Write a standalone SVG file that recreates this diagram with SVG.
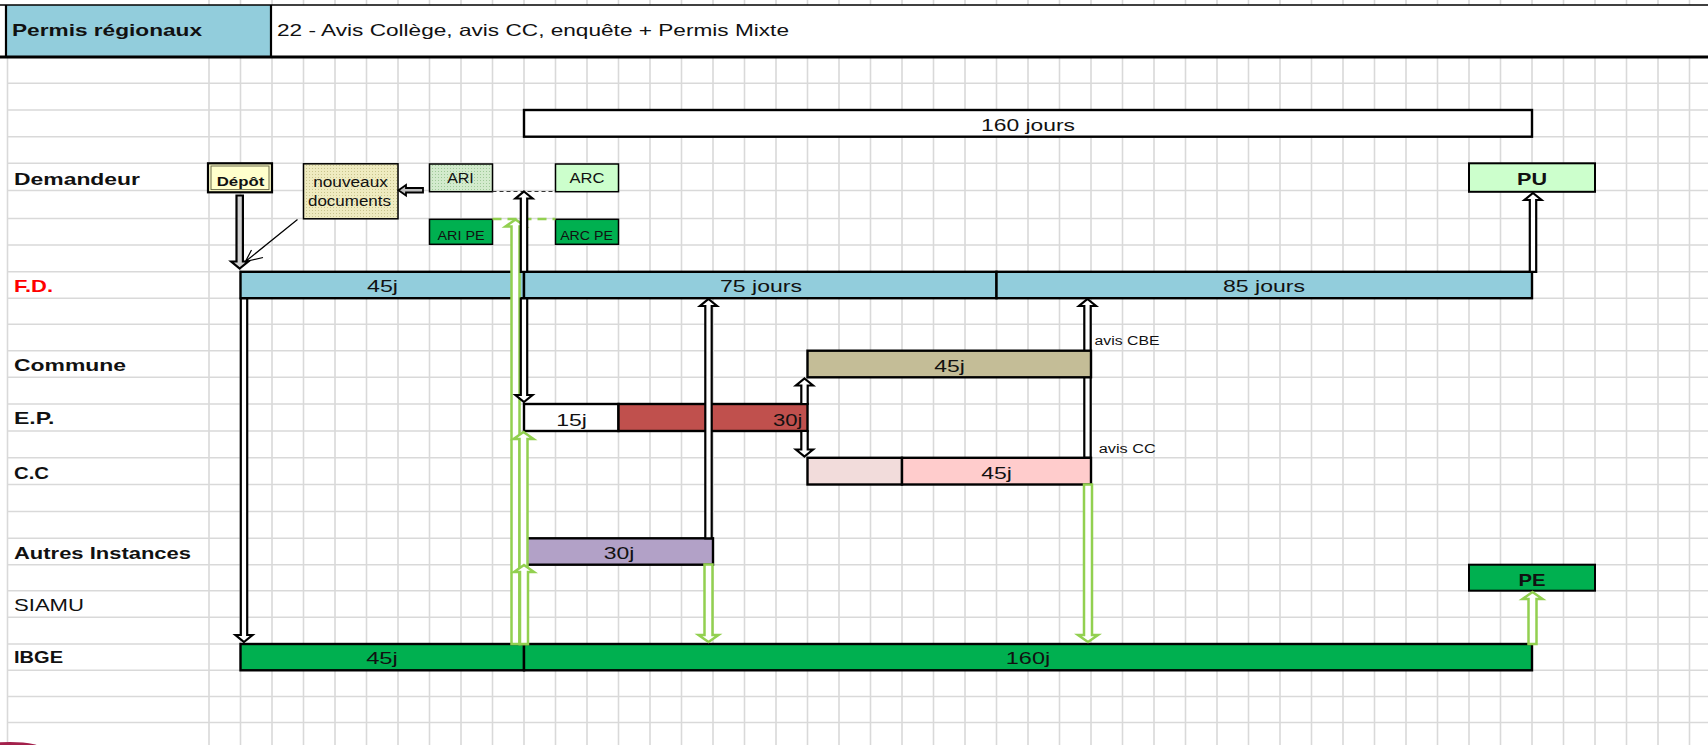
<svg xmlns="http://www.w3.org/2000/svg" width="1708" height="745" viewBox="0 0 1708 745">
<defs>
<style>
text{font-family:"Liberation Sans",Arial,sans-serif;fill:#111}
.b{font-weight:bold}
.s17{font-size:17px}
.s14{font-size:14px}
.s13{font-size:13px}
.s12{font-size:12.5px}
.m{text-anchor:middle}
.bar{stroke:#000;stroke-width:2.4}
.fd{fill:#92cddc}
.gr{fill:#00b050}
.ba{fill:#fff;stroke:#000;stroke-width:2.2;stroke-linejoin:miter}
.ga{fill:#fff;stroke:#92d050;stroke-width:2.5;stroke-linejoin:miter}
.grid{stroke:#d9d9d9;stroke-width:1.6;fill:none}
</style>
<pattern id="dotY" width="3" height="3" patternUnits="userSpaceOnUse"><rect width="3" height="3" fill="#efebc0"/><rect width="1" height="1" fill="#c9c58e"/></pattern>
<pattern id="dotG" width="3" height="3" patternUnits="userSpaceOnUse"><rect width="3" height="3" fill="#d3ebcd"/><rect width="1" height="1" fill="#9fc998"/></pattern>
</defs>
<rect width="1708" height="745" fill="#fff"/>
<g id="grid" class="grid">
<path d="M7.5 57V745M209 0V745M240.5 0V745M272 0V745M303.5 0V745M335 0V745M366.5 0V745M398 0V745M429.5 0V745M461 0V745M492.5 0V745M524 0V745M555.5 0V745M587 0V745M618.5 0V745M650 0V745M681.5 0V745M713 0V745M744.5 0V745M776 0V745M807.5 0V745M839 0V745M870.5 0V745M902 0V745M933.5 0V745M965 0V745M996.5 0V745M1028 0V745M1059.5 0V745M1091 0V745M1122.5 0V745M1154 0V745M1185.5 0V745M1217 0V745M1248.5 0V745M1280 0V745M1311.5 0V745M1343 0V745M1374.5 0V745M1406 0V745M1437.5 0V745M1469 0V745M1500.5 0V745M1532 0V745M1563.5 0V745M1595 0V745M1626.5 0V745M1658 0V745M1689.5 0V745"/>
<path d="M7.5 83.3H1708M7.5 110H1708M7.5 136.7H1708M7.5 163.3H1708M7.5 190.5H1708M7.5 218.5H1708M7.5 245H1708M7.5 271.8H1708M7.5 298.2H1708M7.5 324.2H1708M7.5 350.7H1708M7.5 377.3H1708M7.5 404H1708M7.5 431H1708M7.5 457.8H1708M7.5 484.5H1708M7.5 511.5H1708M7.5 538.3H1708M7.5 564.7H1708M7.5 590.7H1708M7.5 617.3H1708M7.5 644H1708M7.5 670.3H1708M7.5 696.5H1708M7.5 722.5H1708"/>
</g>
<g id="title">
<rect x="0" y="5" width="1708" height="52" fill="#fff"/>
<rect x="6" y="5" width="265" height="52" fill="#92cddc"/>
<path d="M0 5H1708" stroke="#000" stroke-width="1.5"/>
<path d="M6 5V57M271 5V57" stroke="#000" stroke-width="2.2"/>
<path d="M0 57H1708" stroke="#000" stroke-width="3"/>
<text class="b" x="12" y="35.5" font-size="16.5" textLength="190" lengthAdjust="spacingAndGlyphs">Permis régionaux</text>
<text x="277" y="35.5" font-size="16.5" textLength="512" lengthAdjust="spacingAndGlyphs">22 - Avis Collège, avis CC, enquête + Permis Mixte</text>
</g>
<g id="row-labels" class="s17">
<text class="b" x="14" y="185" textLength="126" lengthAdjust="spacingAndGlyphs">Demandeur</text>
<text class="b" x="14" y="292.3" textLength="39" lengthAdjust="spacingAndGlyphs" style="fill:#ff0000">F.D.</text>
<text class="b" x="14" y="371" textLength="112" lengthAdjust="spacingAndGlyphs">Commune</text>
<text class="b" x="14" y="423.5" textLength="40.5" lengthAdjust="spacingAndGlyphs">E.P.</text>
<text class="b" x="14" y="479" textLength="35" lengthAdjust="spacingAndGlyphs">C.C</text>
<text class="b" x="14" y="559.3" textLength="177" lengthAdjust="spacingAndGlyphs">Autres Instances</text>
<text x="14" y="611" textLength="70" lengthAdjust="spacingAndGlyphs">SIAMU</text>
<text class="b" x="14" y="663.3" textLength="49" lengthAdjust="spacingAndGlyphs">IBGE</text>
</g>
<g id="connectors-back">
<path class="ba" d="M1087.5 299 L1096 306 L1090.7 306 L1090.7 457.8 L1084.3 457.8 L1084.3 306 L1079 306 Z"/>
</g>
<g id="n-160jours"><rect class="bar" x="524" y="110" width="1008" height="26.7" fill="#fff" stroke-width="2"/><text class="s17 m" x="1028" y="131" textLength="94" lengthAdjust="spacingAndGlyphs">160 jours</text></g>
<g id="n-depot"><rect x="208" y="163.3" width="64" height="29" fill="#ffffcc" stroke="#000" stroke-width="2.2"/><rect x="211" y="166" width="58" height="23.6" fill="none" stroke="#6b6b4a" stroke-width="1"/><text class="b s13 m" x="240.5" y="185.7" textLength="47.6" lengthAdjust="spacingAndGlyphs">Dépôt</text></g>
<g id="n-nouveaux"><rect x="303.5" y="163.8" width="94.5" height="55" fill="url(#dotY)" stroke="#000" stroke-width="1.5"/><text class="s14 m" x="350.5" y="186.7" textLength="74.7" lengthAdjust="spacingAndGlyphs">nouveaux</text><text class="s14 m" x="349.5" y="205.7" textLength="83" lengthAdjust="spacingAndGlyphs">documents</text></g>
<g id="n-ari"><rect x="429.5" y="164" width="63" height="27.7" fill="url(#dotG)" stroke="#000" stroke-width="1.5"/><text class="s14 m" x="460.5" y="182.7" textLength="26.6" lengthAdjust="spacingAndGlyphs">ARI</text></g>
<g id="n-arc"><rect x="555.5" y="164" width="63" height="27.7" fill="#ccffcc" stroke="#000" stroke-width="1.5"/><text class="s14 m" x="587" y="182.7" textLength="35" lengthAdjust="spacingAndGlyphs">ARC</text></g>
<g id="n-aripe"><rect x="429.5" y="219.3" width="63" height="25" class="gr" stroke="#000" stroke-width="1.5"/><text class="s13 m" x="461" y="240" textLength="47" lengthAdjust="spacingAndGlyphs">ARI PE</text></g>
<g id="n-arcpe"><rect x="555.5" y="219.3" width="63" height="25" class="gr" stroke="#000" stroke-width="1.5"/><text class="s13 m" x="586.5" y="240" textLength="52.7" lengthAdjust="spacingAndGlyphs">ARC PE</text></g>
<g id="n-pu"><rect x="1469" y="163.3" width="126" height="28.5" fill="#ccffcc" stroke="#000" stroke-width="2"/><text class="b s17 m" x="1532" y="184.5" textLength="30" lengthAdjust="spacingAndGlyphs">PU</text></g>
<g id="n-fd" class="s17">
<rect class="bar fd" x="240.5" y="271.8" width="283.5" height="26.4"/>
<rect class="bar fd" x="524" y="271.8" width="472.5" height="26.4"/>
<rect class="bar fd" x="996.5" y="271.8" width="535.5" height="26.4"/>
<text class="m" x="382.5" y="291.7" textLength="31" lengthAdjust="spacingAndGlyphs">45j</text>
<text class="m" x="761" y="291.7" textLength="82" lengthAdjust="spacingAndGlyphs">75 jours</text>
<text class="m" x="1264" y="291.7" textLength="82" lengthAdjust="spacingAndGlyphs">85 jours</text>
</g>
<g id="n-commune"><rect class="bar" x="807.5" y="350.7" width="283.5" height="26.6" fill="#c4bd97"/><text class="s17 m" x="949.5" y="371.7" textLength="30.6" lengthAdjust="spacingAndGlyphs">45j</text></g>
<g id="n-ep" class="s17">
<rect class="bar" x="524" y="404" width="94.5" height="27" fill="#fff"/>
<rect class="bar" x="618.5" y="404" width="189" height="27" fill="#c0504d"/>
<text class="m" x="571.5" y="425.7" textLength="30.7" lengthAdjust="spacingAndGlyphs">15j</text>
<text x="772.9" y="425.7" textLength="29.4" lengthAdjust="spacingAndGlyphs">30j</text>
</g>
<g id="n-cc">
<rect class="bar" x="807.5" y="457.8" width="94.5" height="26.7" fill="#f2dcdb"/>
<rect class="bar" x="902" y="457.8" width="189" height="26.7" fill="#ffcccc"/>
<text class="s17 m" x="996.5" y="479.3" textLength="30.7" lengthAdjust="spacingAndGlyphs">45j</text>
</g>
<g id="n-autres"><rect class="bar" x="524" y="538.3" width="189" height="26.4" fill="#b2a1c7"/><text class="s17 m" x="619" y="559.3" textLength="30.6" lengthAdjust="spacingAndGlyphs">30j</text></g>
<g id="n-pe"><rect x="1469" y="564.7" width="126" height="26" class="gr" stroke="#000" stroke-width="2"/><text class="b s17 m" x="1532" y="586" textLength="27" lengthAdjust="spacingAndGlyphs">PE</text></g>
<g id="n-ibge" class="s17">
<rect class="bar gr" x="240.5" y="644" width="283.5" height="26.3"/>
<rect class="bar gr" x="524" y="644" width="1008" height="26.3"/>
<text class="m" x="382" y="663.5" textLength="31.7" lengthAdjust="spacingAndGlyphs">45j</text>
<text class="m" x="1028" y="663.5" textLength="44.4" lengthAdjust="spacingAndGlyphs">160j</text>
</g>
<g id="connectors">
<path d="M492.5 191.5H555.5" stroke="#333" stroke-width="1.2" stroke-dasharray="4 3"/>
<path d="M492.5 219H555.5" stroke="#92d050" stroke-width="2.5" stroke-dasharray="9 6"/>
<path d="M239.7 268.5 L248.2 261.5 L242.9 261.5 L242.9 195.5 L236.5 195.5 L236.5 261.5 L231.2 261.5 Z" fill="#d0d0d0" stroke="#000" stroke-width="2.2"/>
<path d="M398.5 190.3 L406 185 L406 188 L423 188 L423 192.5 L406 192.5 L406 195.5 Z" fill="#bfbfbf" stroke="#000" stroke-width="1.8"/>
<path d="M297.5 219.5 L245.5 261.5 M251.5 250 L245.5 261.5 L263 257.5" fill="none" stroke="#000" stroke-width="1.2"/>
<path class="ga" d="M515.5 219.5 L525.5 226.5 L519.5 226.5 L519.5 644 L511.5 644 L511.5 226.5 L505.5 226.5 Z"/>
<path class="ga" d="M523.5 432 L533.5 439 L527.5 439 L527.5 644 L519.5 644 L519.5 439 L513.5 439 Z"/>
<path class="ga" d="M524 565 L534 572 L528 572 L528 644 L520 644 L520 572 L514 572 Z"/>
<path class="ba" d="M524 191.5 L532.5 198.5 L527.2 198.5 L527.2 271.8 L520.8 271.8 L520.8 198.5 L515.5 198.5 Z"/>
<path class="ba" d="M244 642 L252.5 635 L247.2 635 L247.2 298.5 L240.8 298.5 L240.8 635 L235.5 635 Z"/>
<path class="ba" d="M524 402 L532.5 395 L527.2 395 L527.2 298.5 L520.8 298.5 L520.8 395 L515.5 395 Z"/>
<path class="ba" d="M708.5 299 L717 306 L711.7 306 L711.7 538.3 L705.3 538.3 L705.3 306 L700 306 Z"/>
<path class="ba" d="M804.5 378.5 L813 385.5 L807.7 385.5 L807.7 404 L801.3 404 L801.3 385.5 L796 385.5 Z"/>
<path class="ba" d="M804.5 456.5 L813 449.5 L807.7 449.5 L807.7 431 L801.3 431 L801.3 449.5 L796 449.5 Z"/>
<path class="ba" d="M1533 193 L1541.5 200 L1536.2 200 L1536.2 271.8 L1529.8 271.8 L1529.8 200 L1524.5 200 Z"/>
<path class="ga" d="M708.5 642 L718.5 635 L712.5 635 L712.5 564.5 L704.5 564.5 L704.5 635 L698.5 635 Z"/>
<path class="ga" d="M1088 642 L1098 635 L1092 635 L1092 484.5 L1084 484.5 L1084 635 L1078 635 Z"/>
<path class="ga" d="M1532.5 592 L1542.5 599 L1536.5 599 L1536.5 644 L1528.5 644 L1528.5 599 L1522.5 599 Z"/>
<text class="s12" x="1094.5" y="345" textLength="65" lengthAdjust="spacingAndGlyphs">avis CBE</text>
<text class="s12" x="1098.7" y="453.3" textLength="57" lengthAdjust="spacingAndGlyphs">avis CC</text>
</g>
<ellipse cx="10" cy="750" rx="34" ry="8" fill="#a3204b"/>
</svg>
